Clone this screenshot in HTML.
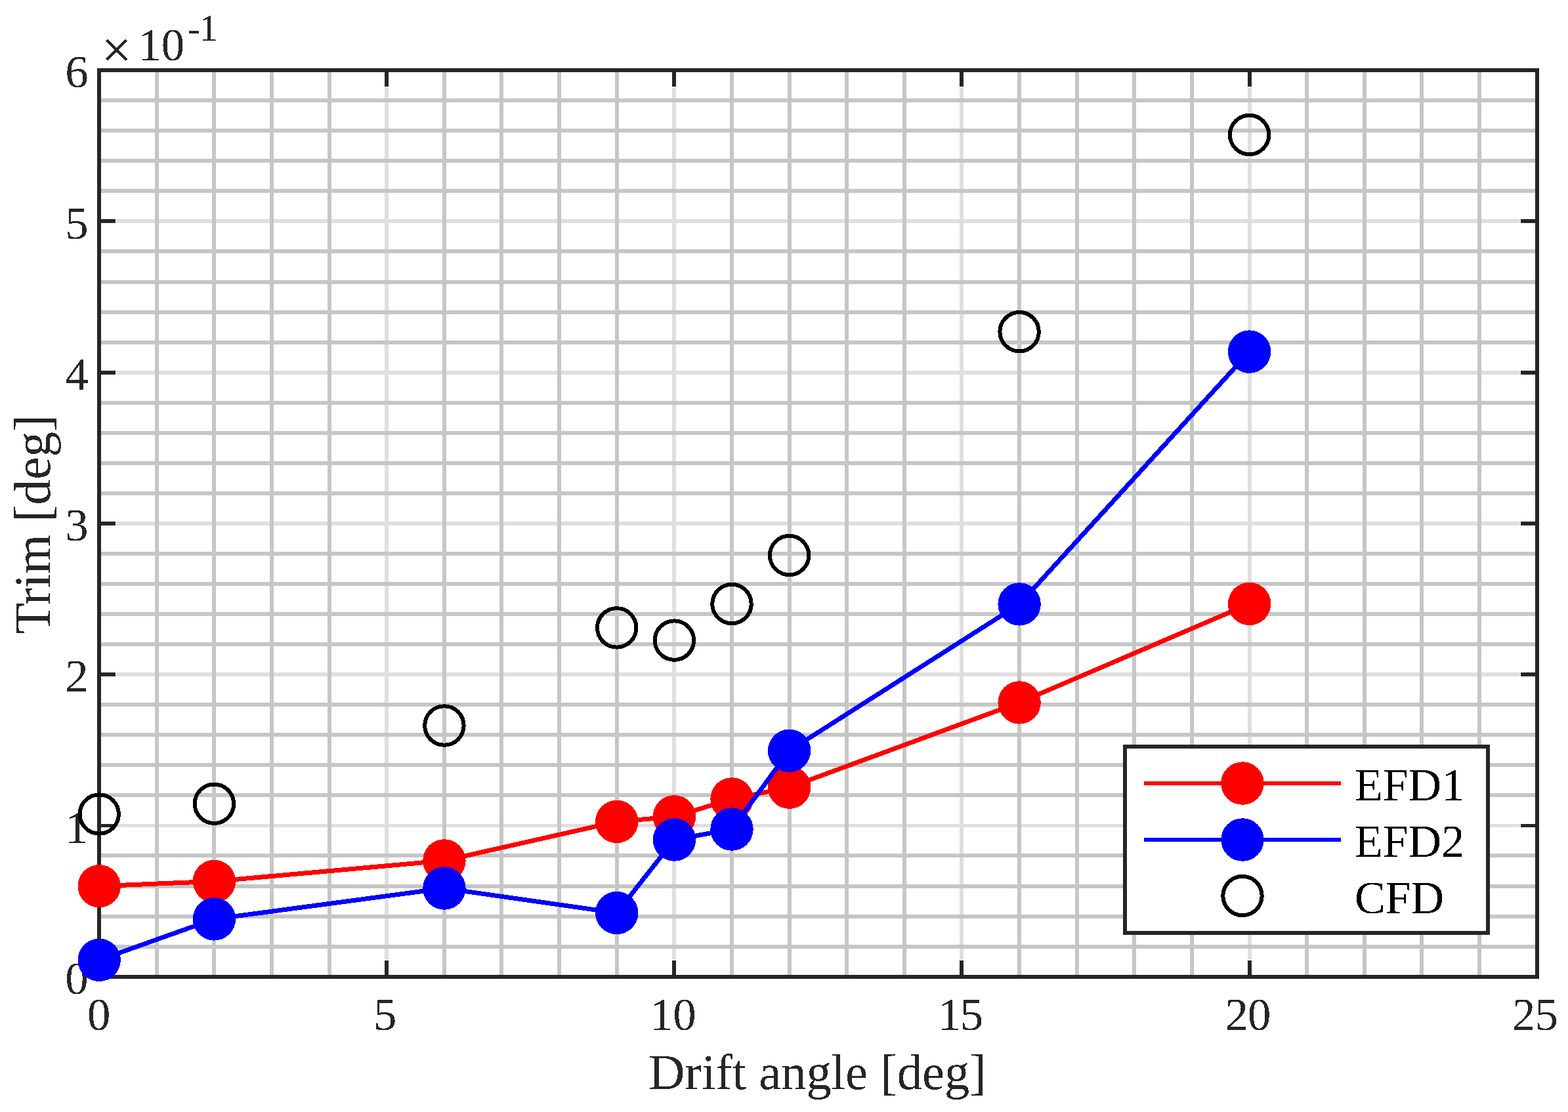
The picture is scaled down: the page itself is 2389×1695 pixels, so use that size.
<!DOCTYPE html>
<html lang="en"><head><meta charset="utf-8"><title>Trim vs drift angle</title>
<style>
html,body{margin:0;padding:0;background:#fff;}
body{width:2389px;height:1695px;overflow:hidden;}
svg{display:block;}
text{font-family:"Liberation Serif","DejaVu Serif",serif;}
.tick{font-size:70.8px;fill:#262626;}
.lab{font-size:76.6px;fill:#262626;}
.leg{font-size:70.0px;fill:#000;}
</style></head><body>
<svg width="2389" height="1695" viewBox="0 0 2389 1695">
<defs><filter id="hard" filterUnits="userSpaceOnUse" x="0" y="0" width="2389" height="1695" color-interpolation-filters="sRGB"><feComponentTransfer><feFuncA type="discrete" tableValues="0 1"/></feComponentTransfer></filter></defs>
<rect width="2389" height="1695" fill="#fff"/>
<g shape-rendering="crispEdges">
<g fill="#dfdfdf">
<rect x="586" y="133" width="6" height="1330"/>
<rect x="1024" y="133" width="6" height="1330"/>
<rect x="1462" y="133" width="6" height="1330"/>
<rect x="1901" y="133" width="6" height="1330"/>
<rect x="177" y="1256" width="2139" height="5"/>
<rect x="177" y="1025" width="2139" height="6"/>
<rect x="177" y="795" width="2139" height="6"/>
<rect x="177" y="565" width="2139" height="6"/>
<rect x="177" y="334" width="2139" height="6"/>
</g>
<g fill="#c6c6c6">
<rect x="236" y="107" width="6" height="1382"/>
<rect x="323" y="107" width="6" height="1382"/>
<rect x="411" y="107" width="6" height="1382"/>
<rect x="499" y="107" width="6" height="1382"/>
<rect x="674" y="107" width="6" height="1382"/>
<rect x="761" y="107" width="6" height="1382"/>
<rect x="849" y="107" width="6" height="1382"/>
<rect x="937" y="107" width="6" height="1382"/>
<rect x="1112" y="107" width="6" height="1382"/>
<rect x="1200" y="107" width="6" height="1382"/>
<rect x="1287" y="107" width="6" height="1382"/>
<rect x="1375" y="107" width="6" height="1382"/>
<rect x="1550" y="107" width="6" height="1382"/>
<rect x="1638" y="107" width="6" height="1382"/>
<rect x="1725" y="107" width="6" height="1382"/>
<rect x="1813" y="107" width="6" height="1382"/>
<rect x="1988" y="107" width="6" height="1382"/>
<rect x="2076" y="107" width="6" height="1382"/>
<rect x="2163" y="107" width="6" height="1382"/>
<rect x="2251" y="107" width="6" height="1382"/>
<rect x="151" y="1440" width="2191" height="6"/>
<rect x="151" y="1394" width="2191" height="6"/>
<rect x="151" y="1348" width="2191" height="6"/>
<rect x="151" y="1301" width="2191" height="6"/>
<rect x="151" y="1209" width="2191" height="6"/>
<rect x="151" y="1163" width="2191" height="6"/>
<rect x="151" y="1117" width="2191" height="6"/>
<rect x="151" y="1071" width="2191" height="6"/>
<rect x="151" y="979" width="2191" height="6"/>
<rect x="151" y="933" width="2191" height="6"/>
<rect x="151" y="887" width="2191" height="6"/>
<rect x="151" y="841" width="2191" height="6"/>
<rect x="151" y="749" width="2191" height="6"/>
<rect x="151" y="703" width="2191" height="6"/>
<rect x="151" y="657" width="2191" height="6"/>
<rect x="151" y="611" width="2191" height="6"/>
<rect x="151" y="519" width="2191" height="6"/>
<rect x="151" y="473" width="2191" height="6"/>
<rect x="151" y="427" width="2191" height="6"/>
<rect x="151" y="380" width="2191" height="6"/>
<rect x="151" y="288" width="2191" height="6"/>
<rect x="151" y="242" width="2191" height="6"/>
<rect x="151" y="196" width="2191" height="6"/>
<rect x="151" y="150" width="2191" height="6"/>
</g>
<g fill="#262626">
<rect x="148" y="104" width="2197" height="6"/>
<rect x="148" y="1486" width="2197" height="6"/>
<rect x="148" y="104" width="6" height="1388"/>
<rect x="2339" y="104" width="6" height="1388"/>
<rect x="586" y="1464" width="6" height="25"/>
<rect x="586" y="107" width="6" height="25"/>
<rect x="1024" y="1464" width="6" height="25"/>
<rect x="1024" y="107" width="6" height="25"/>
<rect x="1462" y="1464" width="6" height="25"/>
<rect x="1462" y="107" width="6" height="25"/>
<rect x="1901" y="1464" width="6" height="25"/>
<rect x="1901" y="107" width="6" height="25"/>
<rect x="151" y="1256" width="25" height="5"/>
<rect x="2317" y="1256" width="25" height="5"/>
<rect x="151" y="1025" width="25" height="6"/>
<rect x="2317" y="1025" width="25" height="6"/>
<rect x="151" y="795" width="25" height="6"/>
<rect x="2317" y="795" width="25" height="6"/>
<rect x="151" y="565" width="25" height="6"/>
<rect x="2317" y="565" width="25" height="6"/>
<rect x="151" y="334" width="25" height="6"/>
<rect x="2317" y="334" width="25" height="6"/>
</g>
</g>
<g filter="url(#hard)">
<g class="tick" text-anchor="middle">
<text x="150.7" y="1570.2">0</text>
<text x="586.8" y="1570.2">5</text>
<text x="1025.3" y="1570.2" letter-spacing="-0.4">10</text>
<text x="1462.8" y="1570.2" letter-spacing="-1.6">15</text>
<text x="1900.9" y="1570.2" letter-spacing="-1.0">20</text>
<text x="2338.4" y="1570.2" letter-spacing="-1.0">25</text>
</g>
<g class="tick" text-anchor="end">
<text x="134.7" y="1514.9">0</text>
<text x="134.7" y="1284.6">1</text>
<text x="134.7" y="1054.4">2</text>
<text x="134.7" y="824.1">3</text>
<text x="134.7" y="593.9">4</text>
<text x="134.7" y="363.6">5</text>
<text x="134.7" y="133.4">6</text>
</g>
<text x="154.7" y="102.5" style="font-size:81px;fill:#262626;stroke:#262626;stroke-width:0.3px">×</text>
<text class="tick" x="210.4" y="92.1">10</text>
<text x="286.0" y="62.3" style="font-size:57.5px;fill:#262626">-<tspan dx="-1.7">1</tspan></text>
<text class="lab" text-anchor="middle" x="1245.5" y="1659.8">Drift angle [deg]</text>
<text class="lab" style="font-size:77.3px" text-anchor="middle" transform="translate(75.8 799.4) rotate(-90)">Trim [deg]</text>
</g>
<polyline points="151.2,1350.7 326.4,1343.4 676.9,1311.9 939.7,1252.4 1027.4,1244.8 1115.0,1217.9 1202.6,1200.2 1553.1,1070.9 1903.6,920.4" fill="none" stroke="#ff0000" stroke-width="7" stroke-linejoin="round" shape-rendering="crispEdges"/>
<g fill="#ff0000" shape-rendering="crispEdges">
<circle cx="151.2" cy="1350.7" r="32.7"/>
<circle cx="326.4" cy="1343.4" r="32.7"/>
<circle cx="676.9" cy="1311.9" r="32.7"/>
<circle cx="939.7" cy="1252.4" r="32.7"/>
<circle cx="1027.4" cy="1244.8" r="32.7"/>
<circle cx="1115.0" cy="1217.9" r="32.7"/>
<circle cx="1202.6" cy="1200.2" r="32.7"/>
<circle cx="1553.1" cy="1070.9" r="32.7"/>
<circle cx="1903.6" cy="920.4" r="32.7"/>
</g>
<polyline points="151.2,1463.3 326.4,1400.9 676.9,1354.0 939.7,1391.5 1027.4,1280.0 1115.0,1264.0 1202.6,1144.3 1553.1,920.9 1903.6,536.1" fill="none" stroke="#0000ff" stroke-width="7" stroke-linejoin="round" shape-rendering="crispEdges"/>
<g fill="#0000ff" shape-rendering="crispEdges">
<circle cx="151.2" cy="1463.3" r="32.7"/>
<circle cx="326.4" cy="1400.9" r="32.7"/>
<circle cx="676.9" cy="1354.0" r="32.7"/>
<circle cx="939.7" cy="1391.5" r="32.7"/>
<circle cx="1027.4" cy="1280.0" r="32.7"/>
<circle cx="1115.0" cy="1264.0" r="32.7"/>
<circle cx="1202.6" cy="1144.3" r="32.7"/>
<circle cx="1553.1" cy="920.9" r="32.7"/>
<circle cx="1903.6" cy="536.1" r="32.7"/>
</g>
<g fill="none" stroke="#000" stroke-width="6" shape-rendering="crispEdges">
<circle cx="151.2" cy="1241.0" r="29.7"/>
<circle cx="326.4" cy="1225.2" r="29.7"/>
<circle cx="676.9" cy="1106.0" r="29.7"/>
<circle cx="939.7" cy="956.9" r="29.7"/>
<circle cx="1027.4" cy="976.1" r="29.7"/>
<circle cx="1115.0" cy="920.5" r="29.7"/>
<circle cx="1202.6" cy="846.5" r="29.7"/>
<circle cx="1553.1" cy="505.7" r="29.7"/>
<circle cx="1903.6" cy="205.5" r="29.7"/>
</g>
<g shape-rendering="crispEdges">
<rect x="1711" y="1135" width="559" height="290" fill="#262626"/>
<rect x="1717" y="1141" width="547" height="278" fill="#fff"/>
<rect x="1743" y="1191" width="300" height="6" fill="#ff0000"/>
<rect x="1743" y="1277" width="300" height="6" fill="#0000ff"/>
<circle cx="1893" cy="1194" r="32.7" fill="#ff0000"/>
<circle cx="1893" cy="1280" r="32.7" fill="#0000ff"/>
<circle cx="1893" cy="1365.5" r="29.7" fill="none" stroke="#000" stroke-width="6"/>
</g>
<g class="leg" filter="url(#hard)">
<text x="2063.9" y="1220">EFD1</text>
<text x="2063.9" y="1306.2">EFD2</text>
<text x="2063.9" y="1392.3">CFD</text>
</g>
</svg>
</body></html>
